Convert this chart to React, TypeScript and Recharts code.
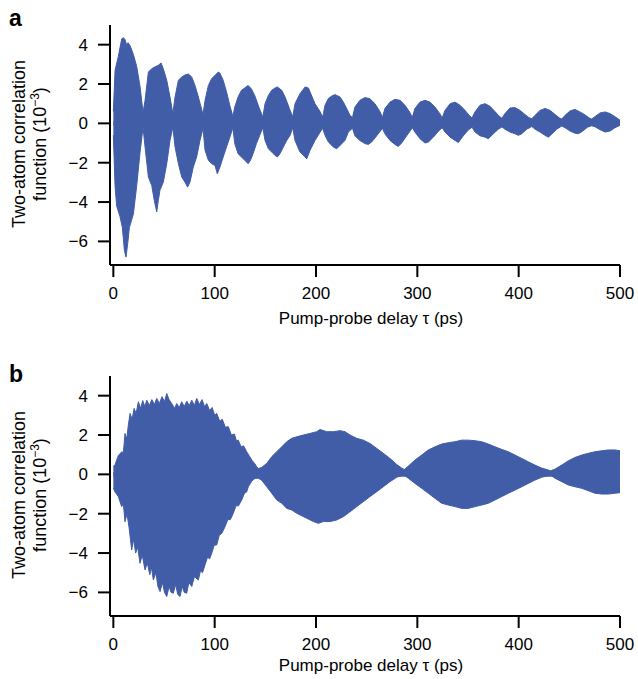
import React from 'react';
import { ComposedChart, Area, XAxis, YAxis, Label } from 'recharts';

const FONT = '"Liberation Sans", Arial, Helvetica, sans-serif';
const BLUE = '#415DA8';

const xTicks = [0, 100, 200, 300, 400, 500];
const yTicks = [-6, -4, -2, 0, 2, 4];

// Panel a: upper envelope
const tUpperA = [0, 1.7, 4.9, 8.3, 10, 11.6, 13, 14.5, 16.5, 19.8, 23, 26.4, 29.3, 31.3, 34.6, 37.9, 41.1, 44.4, 47.1, 49.3, 52.7, 55.9, 58.7, 60.9, 64.2, 67.5, 70.7, 74, 77.3, 80.6, 83.9, 87.2, 88.5, 90.5, 93.8, 97, 100.3, 103.6, 105.2, 108.4, 111.7, 115, 118, 119.8, 123.1, 126.4, 129.7, 133, 136.3, 139.5, 143.8, 147.5, 149.7, 153, 156.3, 159.6, 161.9, 166.2, 169.5, 173.8, 177, 179.3, 184.2, 189.2, 192.5, 194.1, 199, 204, 206.5, 207.3, 208.9, 212.2, 215.5, 218.8, 223.7, 227, 230.3, 233.6, 236, 238.4, 243.3, 248.3, 253.2, 258.2, 263.1, 265.5, 268, 273, 277.9, 282.9, 287.8, 292.7, 295, 297.6, 302.6, 307.6, 312.5, 317.4, 322.4, 324.5, 327.3, 332.3, 337.2, 342.1, 347.1, 351.3, 354, 356.9, 361.8, 366.8, 371.7, 376.6, 380.9, 383.5, 386.5, 391.4, 396.4, 401.3, 406.2, 410.5, 413, 416.2, 421.1, 426, 431, 435.9, 440.1, 442.5, 445.8, 450.7, 455.6, 460.5, 465.5, 469.7, 472, 475.3, 480.3, 485.2, 490.1, 495.1, 500];
const upperA = [0.6, 2.7, 3.4, 4.3, 4.35, 4.25, 4.0, 4.1, 3.95, 3.5, 2.9, 1.85, 0.55, 1.17, 2.61, 2.78, 2.87, 2.95, 3.07, 2.78, 2.19, 1.34, 0.5, 1.34, 2.19, 2.36, 2.46, 2.51, 2.36, 1.93, 1.34, 0.7, 0.45, 1.17, 1.93, 2.27, 2.44, 2.61, 2.55, 2.19, 1.6, 0.9, 0.35, 0.83, 1.34, 1.68, 1.8, 1.93, 1.75, 1.42, 0.8, 0.32, 1.0, 1.42, 1.68, 1.8, 1.85, 1.68, 1.34, 0.75, 0.32, 1.0, 1.51, 1.85, 1.8, 1.6, 1.0, 0.6, 0.32, 0.49, 0.92, 1.26, 1.39, 1.46, 1.34, 1.08, 0.75, 0.4, 0.3, 0.83, 1.17, 1.31, 1.25, 1.0, 0.6, 0.3, 0.75, 1.08, 1.22, 1.17, 0.92, 0.55, 0.3, 0.75, 1.08, 1.17, 1.08, 0.83, 0.48, 0.28, 0.66, 1.0, 1.08, 0.92, 0.66, 0.4, 0.28, 0.58, 0.92, 1.0, 0.87, 0.6, 0.36, 0.26, 0.5, 0.78, 0.8, 0.66, 0.45, 0.28, 0.24, 0.41, 0.66, 0.76, 0.66, 0.45, 0.28, 0.22, 0.41, 0.63, 0.71, 0.58, 0.43, 0.27, 0.22, 0.34, 0.53, 0.58, 0.5, 0.34, 0.16];

// Panel a: lower envelope
const tLowerA = [0, 1.7, 3.3, 6.6, 8.9, 10.9, 12.5, 14.2, 15.8, 18.1, 19.8, 21.4, 23, 26.3, 29.3, 31.3, 34.6, 37.9, 40.4, 42.8, 44.4, 46, 49.3, 52.7, 55.9, 58.7, 60.9, 64.2, 67.5, 70.7, 73.3, 75.6, 78.9, 82.2, 85.5, 88.5, 90.5, 93.8, 97, 100.3, 102.6, 105.2, 108.4, 111.7, 115, 118, 119.8, 123.1, 126.4, 129.7, 133, 135.3, 137.9, 141.2, 144.5, 147.5, 149.7, 153, 156.3, 159.6, 161.9, 164.5, 167.8, 171.1, 174.5, 177, 179.3, 184.2, 189.2, 190.9, 194.1, 199, 204, 206.5, 208.9, 212.2, 217.1, 220.4, 223.7, 228.6, 231.9, 236, 238.4, 243.3, 248.3, 251.6, 254.9, 259.9, 263.1, 265.5, 268, 273, 277.9, 281.2, 284.5, 289.5, 293.4, 295, 297.6, 302.6, 307.6, 310.9, 315.8, 320.8, 324.5, 327.3, 332.3, 337.2, 340.5, 345.4, 350.4, 354, 356.9, 361.8, 366.8, 370.1, 375, 379.9, 383.5, 386.5, 391.4, 396.4, 399.7, 403, 407.9, 413, 416.2, 421.1, 426, 429.3, 432.6, 437.5, 442.5, 445.8, 450.7, 455.6, 458.9, 463.8, 467.8, 472, 475.3, 480.3, 485.2, 490.1, 495.1, 500];
const lowerA = [-0.6, -3.2, -4.2, -4.75, -5.3, -6.45, -6.8, -6.1, -5.3, -4.9, -4.6, -3.9, -3.2, -1.5, -0.2, -1.2, -2.73, -3.16, -3.92, -4.5, -3.92, -3.4, -2.99, -2.05, -0.87, -0.2, -1.2, -2.05, -2.73, -2.99, -3.24, -2.99, -2.22, -1.71, -0.87, -0.25, -1.37, -1.88, -2.05, -2.14, -2.56, -2.22, -1.71, -1.2, -0.7, -0.22, -1.03, -1.54, -1.71, -1.88, -2.05, -1.88, -1.54, -1.03, -0.6, -0.22, -0.87, -1.29, -1.46, -1.63, -1.71, -1.54, -1.2, -0.87, -0.6, -0.22, -0.87, -1.46, -1.71, -1.8, -1.37, -0.87, -0.45, -0.25, -0.61, -0.95, -1.2, -1.29, -1.12, -0.87, -0.44, -0.25, -0.63, -0.87, -1.03, -1.07, -0.95, -0.63, -0.42, -0.25, -0.53, -0.87, -1.07, -1.17, -1.0, -0.63, -0.35, -0.22, -0.44, -0.78, -1.0, -0.95, -0.7, -0.4, -0.22, -0.44, -0.7, -0.87, -0.97, -0.63, -0.33, -0.2, -0.44, -0.63, -0.7, -0.78, -0.53, -0.3, -0.18, -0.3, -0.44, -0.53, -0.61, -0.53, -0.3, -0.16, -0.3, -0.44, -0.61, -0.7, -0.55, -0.3, -0.14, -0.22, -0.39, -0.5, -0.53, -0.37, -0.2, -0.12, -0.17, -0.32, -0.44, -0.39, -0.22, -0.1];

// Panel b: upper envelope
const tUpperB = [0, 1.7, 4.9, 8.3, 9.9, 11.5, 13.2, 14.8, 16.5, 18.5, 20.5, 22.5, 24.7, 27, 29, 31, 33, 35.5, 38, 40.5, 42.8, 45.5, 48, 50.5, 52.7, 55, 57.6, 60.5, 62.5, 65, 67.5, 70, 72.5, 75, 77.4, 80, 82.3, 85, 87.5, 90, 92.2, 95, 97.5, 100, 102, 105, 107.5, 110.5, 113.5, 116.5, 119.5, 121.5, 123.3, 126, 128.5, 131.6, 134, 137, 139.5, 141.5, 143.1, 146.4, 151.4, 156.3, 161.2, 166.2, 171.1, 176, 181, 187.5, 194.1, 200.7, 204, 210.6, 217.1, 223.7, 228.6, 233.6, 240.2, 246.7, 253.3, 259.9, 266.4, 273, 279.7, 284.6, 287.2, 291.1, 297.7, 304.3, 310.8, 317.4, 324, 330.6, 337.2, 343.8, 350.3, 356.9, 363.5, 370.1, 376.7, 383.3, 389.8, 396.4, 403, 409.5, 416.1, 422.7, 429.3, 431.6, 435.9, 442.5, 449, 455.6, 462.2, 468.7, 475.3, 481.9, 488.5, 495.1, 500];
const upperB = [0.4, 0.5, 0.95, 1.15, 1.1, 2.08, 1.8, 2.5, 3.1, 2.8, 3.35, 3.1, 3.69, 3.35, 3.75, 3.45, 3.77, 3.5, 3.8, 3.55, 3.86, 3.6, 3.95, 3.7, 4.11, 3.8, 3.6, 3.35, 3.6, 3.4, 3.69, 3.45, 3.72, 3.5, 3.77, 3.5, 3.86, 3.55, 3.8, 3.45, 3.6, 3.25, 3.4, 3.0, 3.1, 2.7, 2.8, 2.4, 2.42, 2.0, 2.05, 1.7, 1.74, 1.4, 1.45, 1.15, 0.95, 0.7, 0.55, 0.39, 0.3, 0.35, 0.56, 0.9, 1.15, 1.4, 1.66, 1.83, 1.91, 2.0, 2.08, 2.17, 2.28, 2.17, 2.17, 2.22, 2.17, 2.0, 1.83, 1.74, 1.57, 1.32, 1.07, 0.81, 0.5, 0.32, 0.25, 0.42, 0.73, 0.98, 1.24, 1.4, 1.54, 1.61, 1.66, 1.74, 1.74, 1.71, 1.66, 1.54, 1.4, 1.27, 1.15, 0.98, 0.81, 0.64, 0.47, 0.32, 0.22, 0.18, 0.27, 0.47, 0.69, 0.86, 0.98, 1.07, 1.15, 1.2, 1.24, 1.24, 1.2];

// Panel b: lower envelope
const tLowerB = [0, 1.7, 4.9, 8.2, 9.9, 11.5, 13.5, 15.5, 18.1, 20, 22, 24, 26.3, 28.5, 31.3, 33.5, 36, 37.5, 39.5, 42, 44, 46.1, 48.5, 50.5, 52.7, 55, 57, 59.2, 61.5, 63.5, 65.8, 68, 70, 72.4, 74.5, 77.4, 80, 83.9, 86, 88, 90.5, 93, 95, 97.1, 99.5, 102, 104.5, 107, 110.2, 113, 115.5, 118.4, 121, 123.5, 126.7, 129.5, 131.5, 133.2, 136.5, 139.8, 143.1, 146.4, 151.4, 156.3, 161.2, 166.2, 171.1, 176, 181, 184.2, 190.8, 197.4, 202.3, 207.3, 213.9, 220.4, 227, 233.6, 240.2, 246.7, 253.3, 259.9, 266.4, 273, 279.7, 284.6, 287.2, 291.1, 297.7, 304.3, 310.8, 317.4, 324, 330.6, 337.2, 343.8, 350.3, 356.9, 363.5, 370.1, 376.7, 383.3, 389.8, 396.4, 403, 409.5, 416.1, 422.7, 429.3, 431.6, 435.9, 442.5, 449, 455.6, 462.2, 468.7, 475.3, 481.9, 488.5, 495.1, 500];
const lowerB = [-0.7, -0.9, -1.13, -1.64, -1.5, -2.41, -2.0, -2.7, -3.84, -3.3, -4.0, -3.7, -4.52, -4.1, -4.86, -4.5, -5.1, -4.7, -5.37, -5.0, -5.7, -5.96, -5.5, -6.0, -6.21, -5.7, -6.0, -6.04, -5.6, -6.1, -6.21, -5.7, -6.0, -6.04, -5.5, -5.7, -5.2, -5.37, -4.9, -5.0, -4.6, -4.2, -4.3, -4.01, -3.6, -3.59, -3.1, -3.0, -2.66, -2.3, -2.3, -1.98, -1.6, -1.6, -1.3, -0.95, -0.9, -0.63, -0.35, -0.2, -0.2, -0.3, -0.63, -0.96, -1.3, -1.47, -1.73, -1.81, -1.98, -2.06, -2.23, -2.4, -2.49, -2.4, -2.4, -2.32, -2.15, -1.9, -1.64, -1.39, -1.13, -0.88, -0.63, -0.37, -0.15, -0.05, -0.05, -0.2, -0.46, -0.71, -0.96, -1.22, -1.47, -1.56, -1.64, -1.73, -1.73, -1.64, -1.56, -1.47, -1.3, -1.13, -0.96, -0.8, -0.63, -0.46, -0.29, -0.15, -0.06, -0.04, -0.2, -0.37, -0.54, -0.63, -0.71, -0.83, -0.96, -1.0, -1.0, -0.96, -0.93];

type Row = { t: number; hi?: number; lo?: number };

function buildTable(tu: number[], u: number[], tl: number[], l: number[]): Row[] {
  const m = new Map<number, Row>();
  tu.forEach((t, i) => {
    const r = m.get(t) || { t };
    r.hi = u[i];
    m.set(t, r);
  });
  tl.forEach((t, i) => {
    const r = m.get(t) || { t };
    r.lo = l[i];
    m.set(t, r);
  });
  return Array.from(m.values()).sort((a, b) => a.t - b.t);
}

const dataA = buildTable(tUpperA, upperA, tLowerA, lowerA);
const dataB = buildTable(tUpperB, upperB, tLowerB, lowerB);

const fmt = (v: number) => (v < 0 ? '\u2212' + Math.abs(v) : String(v));

const tickStyle = { fill: '#000', fontSize: 17, fontFamily: FONT };
const axisStyle = { stroke: '#000', strokeWidth: 2 };

function YLabelBlock({ letter, letterY }: { letter: string; letterY: number }) {
  return (
    <g fontFamily={FONT} fill="#000">
      <text x={9} y={letterY} fontSize={23} fontWeight="bold">{letter}</text>
      <text transform="rotate(-90)" x={-144} y={25} textAnchor="middle" fontSize={18}>
        Two-atom correlation
      </text>
      <text transform="rotate(-90)" x={-144} y={46} textAnchor="middle" fontSize={18}>
        function (10<tspan fontSize={12} dy={-7}>{'\u22123'}</tspan><tspan dy={7}>)</tspan>
      </text>
    </g>
  );
}

function Panel({ data, letter, letterY, xLabelY, height }: { data: Row[]; letter: string; letterY: number; xLabelY: number; height: number }) {
  return (
    <ComposedChart
      width={638}
      height={height}
      data={data}
      margin={{ top: 25, right: 18, bottom: height - 25 - 240 - 60, left: 0 }}
    >
      <XAxis
        dataKey="t"
        type="number"
        domain={[-3.3, 500]}
        allowDataOverflow
        ticks={xTicks}
        interval={0}
        height={60}
        tickSize={12}
        tickMargin={10}
        tick={tickStyle}
        axisLine={axisStyle}
        tickLine={axisStyle}
      >
        <Label
          content={() => (
            <text x={371} y={xLabelY} textAnchor="middle" fontSize={17} fontFamily={FONT} fill="#000">
              Pump-probe delay τ (ps)
            </text>
          )}
        />
      </XAxis>
      <YAxis
        type="number"
        domain={[-7.2, 5]}
        allowDataOverflow
        ticks={yTicks}
        interval={0}
        width={110}
        tickSize={12}
        tickMargin={10}
        tick={tickStyle}
        tickFormatter={fmt}
        axisLine={axisStyle}
        tickLine={axisStyle}
      >
        <Label content={() => <YLabelBlock letter={letter} letterY={letterY} />} />
      </YAxis>
      <Area
        dataKey="hi"
        type="linear"
        baseValue={-0.12}
        connectNulls
        stroke={BLUE}
        strokeWidth={1}
        fill={BLUE}
        fillOpacity={1}
        dot={false}
        activeDot={false}
        isAnimationActive={false}
      />
      <Area
        dataKey="lo"
        type="linear"
        baseValue={0.12}
        connectNulls
        stroke={BLUE}
        strokeWidth={1}
        fill={BLUE}
        fillOpacity={1}
        dot={false}
        activeDot={false}
        isAnimationActive={false}
      />
    </ComposedChart>
  );
}

export default function App() {
  return (
    <div style={{ position: 'absolute', left: 0, top: 0, width: 638, height: 679, overflow: 'hidden', background: '#fff' }}>
      <div style={{ position: 'absolute', left: 0, top: 0 }}>
        <Panel data={dataA} letter="a" letterY={26} xLabelY={324} height={340} />
      </div>
      <div style={{ position: 'absolute', left: 0, top: 351 }}>
        <Panel data={dataB} letter="b" letterY={31} xLabelY={320} height={328} />
      </div>
    </div>
  );
}
